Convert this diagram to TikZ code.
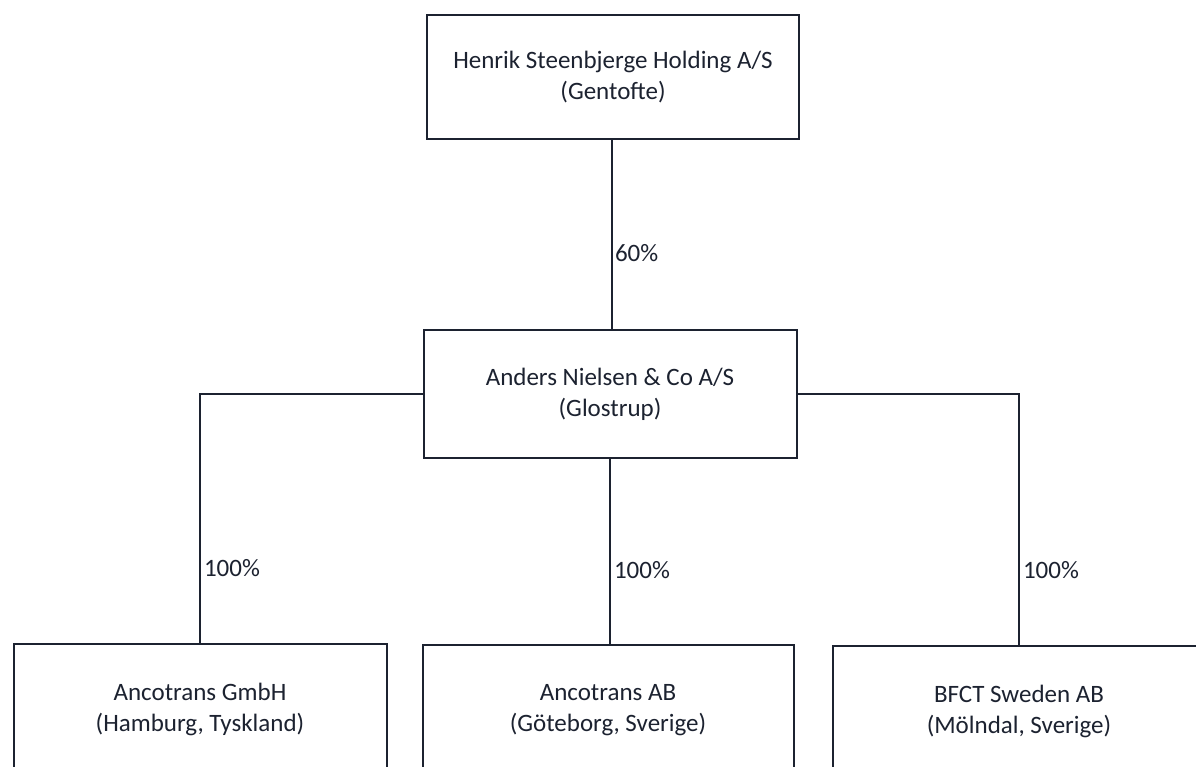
\documentclass[tikz,border=0pt]{standalone}
\usepackage{fontspec}
\usetikzlibrary{calc}
\setmainfont{Carlito}
\definecolor{ink}{HTML}{1C2230}
\begin{document}
\begin{tikzpicture}[x=1pt,y=-1pt,
  company/.style={draw=ink, line width=2pt, rectangle, align=center, text=ink,
    font=\fontsize{25}{31}\selectfont, inner sep=0pt},
  conn/.style={draw=ink, line width=2pt},
  pct/.style={text=ink, font=\fontsize{25}{30}\selectfont, anchor=west, inner sep=0pt}]
\useasboundingbox (0,0) rectangle (1196,766);
\clip (0,0) rectangle (1196,766);
\fill[white] (0,0) rectangle (1196,766);
\node[company, minimum width=372pt, minimum height=124pt] (top) at (613,77) {Henrik Steenbjerge Holding A/S\\(Gentofte)};
\node[company, minimum width=373pt, minimum height=128pt] (mid) at (610,394) {Anders Nielsen \& Co A/S\\(Glostrup)};
\node[company, minimum width=373pt, minimum height=130pt] (bl) at (200,709) {Ancotrans GmbH\\(Hamburg, Tyskland)};
\node[company, minimum width=371pt, minimum height=130pt] (bm) at (608,710) {Ancotrans AB\\(Göteborg, Sverige)};
\node[company, minimum width=373pt, minimum height=130pt] (br) at (1019,711) {BFCT Sweden AB\\(Mölndal, Sverige)};
\coordinate (ta) at ($(top.south)+(-1,0)$);
\draw[conn] (ta) -- (ta |- mid.north) node[pct, pos=0.6, xshift=2pt] (l60) {60\%};
\draw[conn] (mid.west) -| (bl.north) node[pct, pos=0.85, xshift=3pt] (l1) {100\%};
\draw[conn] (mid.south) -- (mid.south |- bm.north) node[pct, pos=0.6, xshift=3pt] (l2) {100\%};
\draw[conn] (mid.east) -| (br.north) node[pct, pos=0.85, xshift=3pt] (l3) {100\%};
\end{tikzpicture}
\end{document}
